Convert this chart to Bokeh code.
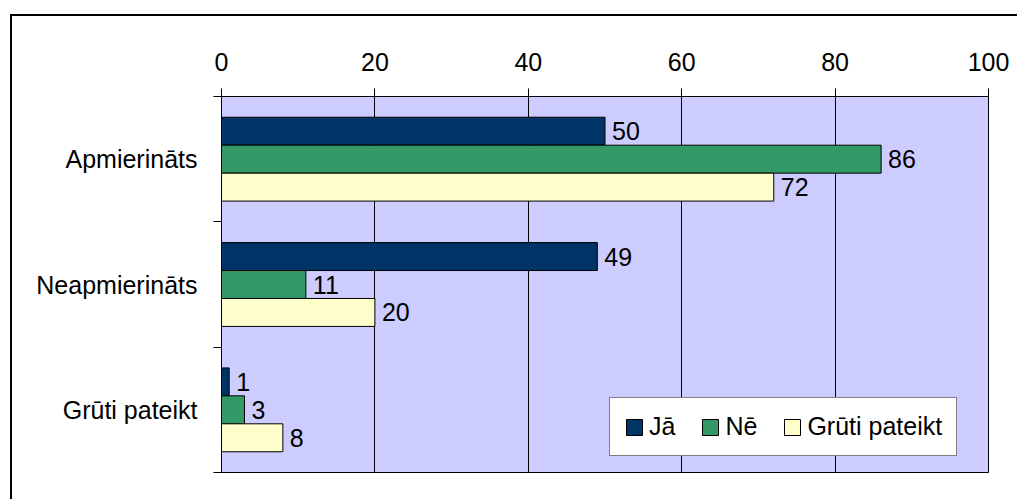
from bokeh.plotting import figure
from bokeh.models import ColumnDataSource, Range1d, FixedTicker, Legend
from bokeh.transform import dodge
from bokeh.core.properties import value
from bokeh.embed import file_html
from bokeh.resources import INLINE

categories = ["Apmierināts", "Neapmierināts", "Grūti pateikt"]
series_names = ["Jā", "Nē", "Grūti pateikt"]
ja = [50, 49, 1]
ne = [86, 11, 3]
gruti = [72, 20, 8]
x_ticks = [0, 20, 40, 60, 80, 100]
colors = ["#003366", "#339966", "#FFFFCC"]

FONT = "Liberation Sans"
FS = "25px"

n = len(categories)
# category slots from top to bottom (slot centre positions on the y scale)
pos = [n - i - 0.5 for i in range(n)]
src = ColumnDataSource(dict(
    cat=categories, pos=pos,
    ja=ja, ne=ne, gruti=gruti,
    ja_t=[str(v) for v in ja], ne_t=[str(v) for v in ne], gruti_t=[str(v) for v in gruti],
))

p = figure(y_range=Range1d(0, n), x_range=Range1d(0, 100),
           frame_width=767, frame_height=376,
           min_border_left=209, min_border_right=29, min_border_top=80, min_border_bottom=27,
           x_axis_location="above", y_axis_location="left",
           output_backend="svg", toolbar_location=None)
p.margin = (14, 0, 0, 10)
p.styles = {"border-left": "2px solid black", "border-top": "2px solid black"}

p.background_fill_color = "#CCCCFF"
p.border_fill_color = "white"
p.outline_line_color = "black"
p.outline_line_width = 1

# x axis
xa = p.xaxis[0]
xa.ticker = FixedTicker(ticks=x_ticks)
xa.major_tick_out = 8
xa.major_tick_in = 0
xa.minor_tick_line_color = None
xa.major_tick_line_color = "black"
xa.axis_line_color = "black"
xa.major_label_text_font = FONT
xa.major_label_text_font_size = FS
xa.major_label_text_color = "black"
xa.major_label_standoff = 18
p.xgrid.ticker = FixedTicker(ticks=x_ticks)
p.xgrid.grid_line_color = "black"
p.xgrid.grid_line_width = 1
p.ygrid.grid_line_color = None

# y axis: ticks at category boundaries, labels at category centres
ya = p.yaxis[0]
ya.ticker = FixedTicker(ticks=pos, minor_ticks=list(range(n + 1)))
ya.major_label_overrides = {c: f for c, f in zip(pos, categories)}
ya.major_tick_line_color = None
ya.minor_tick_out = 8
ya.minor_tick_in = 0
ya.minor_tick_line_color = "black"
ya.axis_line_color = "black"
ya.major_label_text_font = FONT
ya.major_label_text_font_size = FS
ya.major_label_text_color = "black"
ya.major_label_standoff = 16

bh = 0.223
offs = [bh, 0.0, -bh]
cols = ["ja", "ne", "gruti"]
items = []
for col, off, color, name in zip(cols, offs, colors, series_names):
    r = p.hbar(y=dodge("pos", off), left=0, right=col, height=bh,
               source=src, fill_color=color, line_color="black", line_width=1)
    items.append((name, [r]))
    p.text(x=col, y=dodge("pos", off), text=col + "_t", source=src,
           x_offset=7, text_align="left", text_baseline="middle",
           text_font=value(FONT), text_font_size=FS, text_color="black")

legend = Legend(items=items, orientation="horizontal", location=(388, 16),
                label_text_font=FONT, label_text_font_size=FS, label_text_color="black",
                glyph_width=20, glyph_height=20, label_standoff=5, spacing=25,
                padding=14, margin=0,
                border_line_color="black", border_line_width=1,
                background_fill_color="white", background_fill_alpha=1.0)
p.add_layout(legend, "center")

open("out.html", "w").write(file_html(p, INLINE))
